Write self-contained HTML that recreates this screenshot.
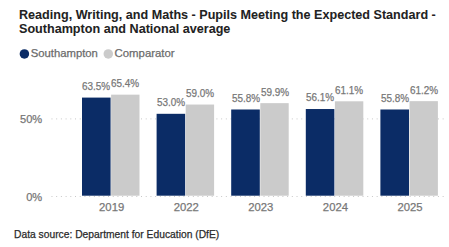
<!DOCTYPE html>
<html><head><meta charset="utf-8"><style>
html,body{margin:0;padding:0;background:#fff;}
body{width:449px;height:247px;position:relative;overflow:hidden;font-family:"Liberation Sans",sans-serif;}
.t{position:absolute;white-space:nowrap;-webkit-text-stroke:0.25px currentColor;}
svg{position:absolute;left:0;top:0;}
</style></head><body>
<svg width="449" height="247" viewBox="0 0 449 247">
<circle cx="24.4" cy="53.9" r="4.75" fill="#0b2c66"/>
<circle cx="108.3" cy="53.9" r="4.75" fill="#cbcbcb"/>
<rect x="51.45" y="118.40" width="1" height="1" fill="#c8c8c8"/>
<rect x="56.16" y="118.40" width="1" height="1" fill="#c8c8c8"/>
<rect x="60.88" y="118.40" width="1" height="1" fill="#c8c8c8"/>
<rect x="65.59" y="118.40" width="1" height="1" fill="#c8c8c8"/>
<rect x="70.30" y="118.40" width="1" height="1" fill="#c8c8c8"/>
<rect x="75.01" y="118.40" width="1" height="1" fill="#c8c8c8"/>
<rect x="79.73" y="118.40" width="1" height="1" fill="#c8c8c8"/>
<rect x="84.44" y="118.40" width="1" height="1" fill="#c8c8c8"/>
<rect x="89.15" y="118.40" width="1" height="1" fill="#c8c8c8"/>
<rect x="93.87" y="118.40" width="1" height="1" fill="#c8c8c8"/>
<rect x="98.58" y="118.40" width="1" height="1" fill="#c8c8c8"/>
<rect x="103.29" y="118.40" width="1" height="1" fill="#c8c8c8"/>
<rect x="108.01" y="118.40" width="1" height="1" fill="#c8c8c8"/>
<rect x="112.72" y="118.40" width="1" height="1" fill="#c8c8c8"/>
<rect x="117.43" y="118.40" width="1" height="1" fill="#c8c8c8"/>
<rect x="122.14" y="118.40" width="1" height="1" fill="#c8c8c8"/>
<rect x="126.86" y="118.40" width="1" height="1" fill="#c8c8c8"/>
<rect x="131.57" y="118.40" width="1" height="1" fill="#c8c8c8"/>
<rect x="136.28" y="118.40" width="1" height="1" fill="#c8c8c8"/>
<rect x="141.00" y="118.40" width="1" height="1" fill="#c8c8c8"/>
<rect x="145.71" y="118.40" width="1" height="1" fill="#c8c8c8"/>
<rect x="150.42" y="118.40" width="1" height="1" fill="#c8c8c8"/>
<rect x="155.14" y="118.40" width="1" height="1" fill="#c8c8c8"/>
<rect x="159.85" y="118.40" width="1" height="1" fill="#c8c8c8"/>
<rect x="164.56" y="118.40" width="1" height="1" fill="#c8c8c8"/>
<rect x="169.27" y="118.40" width="1" height="1" fill="#c8c8c8"/>
<rect x="173.99" y="118.40" width="1" height="1" fill="#c8c8c8"/>
<rect x="178.70" y="118.40" width="1" height="1" fill="#c8c8c8"/>
<rect x="183.41" y="118.40" width="1" height="1" fill="#c8c8c8"/>
<rect x="188.13" y="118.40" width="1" height="1" fill="#c8c8c8"/>
<rect x="192.84" y="118.40" width="1" height="1" fill="#c8c8c8"/>
<rect x="197.55" y="118.40" width="1" height="1" fill="#c8c8c8"/>
<rect x="202.27" y="118.40" width="1" height="1" fill="#c8c8c8"/>
<rect x="206.98" y="118.40" width="1" height="1" fill="#c8c8c8"/>
<rect x="211.69" y="118.40" width="1" height="1" fill="#c8c8c8"/>
<rect x="216.40" y="118.40" width="1" height="1" fill="#c8c8c8"/>
<rect x="221.12" y="118.40" width="1" height="1" fill="#c8c8c8"/>
<rect x="225.83" y="118.40" width="1" height="1" fill="#c8c8c8"/>
<rect x="230.54" y="118.40" width="1" height="1" fill="#c8c8c8"/>
<rect x="235.26" y="118.40" width="1" height="1" fill="#c8c8c8"/>
<rect x="239.97" y="118.40" width="1" height="1" fill="#c8c8c8"/>
<rect x="244.68" y="118.40" width="1" height="1" fill="#c8c8c8"/>
<rect x="249.40" y="118.40" width="1" height="1" fill="#c8c8c8"/>
<rect x="254.11" y="118.40" width="1" height="1" fill="#c8c8c8"/>
<rect x="258.82" y="118.40" width="1" height="1" fill="#c8c8c8"/>
<rect x="263.53" y="118.40" width="1" height="1" fill="#c8c8c8"/>
<rect x="268.25" y="118.40" width="1" height="1" fill="#c8c8c8"/>
<rect x="272.96" y="118.40" width="1" height="1" fill="#c8c8c8"/>
<rect x="277.67" y="118.40" width="1" height="1" fill="#c8c8c8"/>
<rect x="282.39" y="118.40" width="1" height="1" fill="#c8c8c8"/>
<rect x="287.10" y="118.40" width="1" height="1" fill="#c8c8c8"/>
<rect x="291.81" y="118.40" width="1" height="1" fill="#c8c8c8"/>
<rect x="296.53" y="118.40" width="1" height="1" fill="#c8c8c8"/>
<rect x="301.24" y="118.40" width="1" height="1" fill="#c8c8c8"/>
<rect x="305.95" y="118.40" width="1" height="1" fill="#c8c8c8"/>
<rect x="310.67" y="118.40" width="1" height="1" fill="#c8c8c8"/>
<rect x="315.38" y="118.40" width="1" height="1" fill="#c8c8c8"/>
<rect x="320.09" y="118.40" width="1" height="1" fill="#c8c8c8"/>
<rect x="324.80" y="118.40" width="1" height="1" fill="#c8c8c8"/>
<rect x="329.52" y="118.40" width="1" height="1" fill="#c8c8c8"/>
<rect x="334.23" y="118.40" width="1" height="1" fill="#c8c8c8"/>
<rect x="338.94" y="118.40" width="1" height="1" fill="#c8c8c8"/>
<rect x="343.66" y="118.40" width="1" height="1" fill="#c8c8c8"/>
<rect x="348.37" y="118.40" width="1" height="1" fill="#c8c8c8"/>
<rect x="353.08" y="118.40" width="1" height="1" fill="#c8c8c8"/>
<rect x="357.80" y="118.40" width="1" height="1" fill="#c8c8c8"/>
<rect x="362.51" y="118.40" width="1" height="1" fill="#c8c8c8"/>
<rect x="367.22" y="118.40" width="1" height="1" fill="#c8c8c8"/>
<rect x="371.93" y="118.40" width="1" height="1" fill="#c8c8c8"/>
<rect x="376.65" y="118.40" width="1" height="1" fill="#c8c8c8"/>
<rect x="381.36" y="118.40" width="1" height="1" fill="#c8c8c8"/>
<rect x="386.07" y="118.40" width="1" height="1" fill="#c8c8c8"/>
<rect x="390.79" y="118.40" width="1" height="1" fill="#c8c8c8"/>
<rect x="395.50" y="118.40" width="1" height="1" fill="#c8c8c8"/>
<rect x="400.21" y="118.40" width="1" height="1" fill="#c8c8c8"/>
<rect x="404.93" y="118.40" width="1" height="1" fill="#c8c8c8"/>
<rect x="409.64" y="118.40" width="1" height="1" fill="#c8c8c8"/>
<rect x="414.35" y="118.40" width="1" height="1" fill="#c8c8c8"/>
<rect x="419.06" y="118.40" width="1" height="1" fill="#c8c8c8"/>
<rect x="423.78" y="118.40" width="1" height="1" fill="#c8c8c8"/>
<rect x="428.49" y="118.40" width="1" height="1" fill="#c8c8c8"/>
<rect x="433.20" y="118.40" width="1" height="1" fill="#c8c8c8"/>
<rect x="437.92" y="118.40" width="1" height="1" fill="#c8c8c8"/>
<rect x="442.63" y="118.40" width="1" height="1" fill="#c8c8c8"/>
<rect x="51.45" y="196.00" width="1" height="1" fill="#c8c8c8"/>
<rect x="56.16" y="196.00" width="1" height="1" fill="#c8c8c8"/>
<rect x="60.88" y="196.00" width="1" height="1" fill="#c8c8c8"/>
<rect x="65.59" y="196.00" width="1" height="1" fill="#c8c8c8"/>
<rect x="70.30" y="196.00" width="1" height="1" fill="#c8c8c8"/>
<rect x="75.01" y="196.00" width="1" height="1" fill="#c8c8c8"/>
<rect x="79.73" y="196.00" width="1" height="1" fill="#c8c8c8"/>
<rect x="84.44" y="196.00" width="1" height="1" fill="#c8c8c8"/>
<rect x="89.15" y="196.00" width="1" height="1" fill="#c8c8c8"/>
<rect x="93.87" y="196.00" width="1" height="1" fill="#c8c8c8"/>
<rect x="98.58" y="196.00" width="1" height="1" fill="#c8c8c8"/>
<rect x="103.29" y="196.00" width="1" height="1" fill="#c8c8c8"/>
<rect x="108.01" y="196.00" width="1" height="1" fill="#c8c8c8"/>
<rect x="112.72" y="196.00" width="1" height="1" fill="#c8c8c8"/>
<rect x="117.43" y="196.00" width="1" height="1" fill="#c8c8c8"/>
<rect x="122.14" y="196.00" width="1" height="1" fill="#c8c8c8"/>
<rect x="126.86" y="196.00" width="1" height="1" fill="#c8c8c8"/>
<rect x="131.57" y="196.00" width="1" height="1" fill="#c8c8c8"/>
<rect x="136.28" y="196.00" width="1" height="1" fill="#c8c8c8"/>
<rect x="141.00" y="196.00" width="1" height="1" fill="#c8c8c8"/>
<rect x="145.71" y="196.00" width="1" height="1" fill="#c8c8c8"/>
<rect x="150.42" y="196.00" width="1" height="1" fill="#c8c8c8"/>
<rect x="155.14" y="196.00" width="1" height="1" fill="#c8c8c8"/>
<rect x="159.85" y="196.00" width="1" height="1" fill="#c8c8c8"/>
<rect x="164.56" y="196.00" width="1" height="1" fill="#c8c8c8"/>
<rect x="169.27" y="196.00" width="1" height="1" fill="#c8c8c8"/>
<rect x="173.99" y="196.00" width="1" height="1" fill="#c8c8c8"/>
<rect x="178.70" y="196.00" width="1" height="1" fill="#c8c8c8"/>
<rect x="183.41" y="196.00" width="1" height="1" fill="#c8c8c8"/>
<rect x="188.13" y="196.00" width="1" height="1" fill="#c8c8c8"/>
<rect x="192.84" y="196.00" width="1" height="1" fill="#c8c8c8"/>
<rect x="197.55" y="196.00" width="1" height="1" fill="#c8c8c8"/>
<rect x="202.27" y="196.00" width="1" height="1" fill="#c8c8c8"/>
<rect x="206.98" y="196.00" width="1" height="1" fill="#c8c8c8"/>
<rect x="211.69" y="196.00" width="1" height="1" fill="#c8c8c8"/>
<rect x="216.40" y="196.00" width="1" height="1" fill="#c8c8c8"/>
<rect x="221.12" y="196.00" width="1" height="1" fill="#c8c8c8"/>
<rect x="225.83" y="196.00" width="1" height="1" fill="#c8c8c8"/>
<rect x="230.54" y="196.00" width="1" height="1" fill="#c8c8c8"/>
<rect x="235.26" y="196.00" width="1" height="1" fill="#c8c8c8"/>
<rect x="239.97" y="196.00" width="1" height="1" fill="#c8c8c8"/>
<rect x="244.68" y="196.00" width="1" height="1" fill="#c8c8c8"/>
<rect x="249.40" y="196.00" width="1" height="1" fill="#c8c8c8"/>
<rect x="254.11" y="196.00" width="1" height="1" fill="#c8c8c8"/>
<rect x="258.82" y="196.00" width="1" height="1" fill="#c8c8c8"/>
<rect x="263.53" y="196.00" width="1" height="1" fill="#c8c8c8"/>
<rect x="268.25" y="196.00" width="1" height="1" fill="#c8c8c8"/>
<rect x="272.96" y="196.00" width="1" height="1" fill="#c8c8c8"/>
<rect x="277.67" y="196.00" width="1" height="1" fill="#c8c8c8"/>
<rect x="282.39" y="196.00" width="1" height="1" fill="#c8c8c8"/>
<rect x="287.10" y="196.00" width="1" height="1" fill="#c8c8c8"/>
<rect x="291.81" y="196.00" width="1" height="1" fill="#c8c8c8"/>
<rect x="296.53" y="196.00" width="1" height="1" fill="#c8c8c8"/>
<rect x="301.24" y="196.00" width="1" height="1" fill="#c8c8c8"/>
<rect x="305.95" y="196.00" width="1" height="1" fill="#c8c8c8"/>
<rect x="310.67" y="196.00" width="1" height="1" fill="#c8c8c8"/>
<rect x="315.38" y="196.00" width="1" height="1" fill="#c8c8c8"/>
<rect x="320.09" y="196.00" width="1" height="1" fill="#c8c8c8"/>
<rect x="324.80" y="196.00" width="1" height="1" fill="#c8c8c8"/>
<rect x="329.52" y="196.00" width="1" height="1" fill="#c8c8c8"/>
<rect x="334.23" y="196.00" width="1" height="1" fill="#c8c8c8"/>
<rect x="338.94" y="196.00" width="1" height="1" fill="#c8c8c8"/>
<rect x="343.66" y="196.00" width="1" height="1" fill="#c8c8c8"/>
<rect x="348.37" y="196.00" width="1" height="1" fill="#c8c8c8"/>
<rect x="353.08" y="196.00" width="1" height="1" fill="#c8c8c8"/>
<rect x="357.80" y="196.00" width="1" height="1" fill="#c8c8c8"/>
<rect x="362.51" y="196.00" width="1" height="1" fill="#c8c8c8"/>
<rect x="367.22" y="196.00" width="1" height="1" fill="#c8c8c8"/>
<rect x="371.93" y="196.00" width="1" height="1" fill="#c8c8c8"/>
<rect x="376.65" y="196.00" width="1" height="1" fill="#c8c8c8"/>
<rect x="381.36" y="196.00" width="1" height="1" fill="#c8c8c8"/>
<rect x="386.07" y="196.00" width="1" height="1" fill="#c8c8c8"/>
<rect x="390.79" y="196.00" width="1" height="1" fill="#c8c8c8"/>
<rect x="395.50" y="196.00" width="1" height="1" fill="#c8c8c8"/>
<rect x="400.21" y="196.00" width="1" height="1" fill="#c8c8c8"/>
<rect x="404.93" y="196.00" width="1" height="1" fill="#c8c8c8"/>
<rect x="409.64" y="196.00" width="1" height="1" fill="#c8c8c8"/>
<rect x="414.35" y="196.00" width="1" height="1" fill="#c8c8c8"/>
<rect x="419.06" y="196.00" width="1" height="1" fill="#c8c8c8"/>
<rect x="423.78" y="196.00" width="1" height="1" fill="#c8c8c8"/>
<rect x="428.49" y="196.00" width="1" height="1" fill="#c8c8c8"/>
<rect x="433.20" y="196.00" width="1" height="1" fill="#c8c8c8"/>
<rect x="437.92" y="196.00" width="1" height="1" fill="#c8c8c8"/>
<rect x="442.63" y="196.00" width="1" height="1" fill="#c8c8c8"/>
<rect x="82.00" y="97.59" width="28.6" height="98.11" fill="#0b2c66"/>
<rect x="111.10" y="94.66" width="28.4" height="101.04" fill="#cbcbcb"/>
<rect x="156.60" y="113.81" width="28.6" height="81.88" fill="#0b2c66"/>
<rect x="185.70" y="104.54" width="28.4" height="91.16" fill="#cbcbcb"/>
<rect x="231.20" y="109.49" width="28.6" height="86.21" fill="#0b2c66"/>
<rect x="260.30" y="103.15" width="28.4" height="92.55" fill="#cbcbcb"/>
<rect x="305.80" y="109.03" width="28.6" height="86.67" fill="#0b2c66"/>
<rect x="334.90" y="101.30" width="28.4" height="94.40" fill="#cbcbcb"/>
<rect x="380.40" y="109.49" width="28.6" height="86.21" fill="#0b2c66"/>
<rect x="409.50" y="101.15" width="28.4" height="94.55" fill="#cbcbcb"/>
</svg>
<div class="t" style="left:19.00px;top:7.87px;font-size:12.6px;line-height:15.12px;color:#222222;font-weight:700;-webkit-text-stroke:0.05px currentColor;">Reading, Writing, and Maths - Pupils Meeting the Expected Standard -</div>
<div class="t" style="left:19.00px;top:22.27px;font-size:12.6px;line-height:15.12px;color:#222222;font-weight:700;-webkit-text-stroke:0.05px currentColor;">Southampton and National average</div>
<div class="t" style="left:30.70px;top:46.70px;font-size:11.3px;line-height:13.56px;color:#6b6b6b;font-weight:400;">Southampton</div>
<div class="t" style="left:114.50px;top:46.61px;font-size:11.4px;line-height:13.68px;color:#6b6b6b;font-weight:400;">Comparator</div>
<div class="t" style="right:406.80px;top:112.79px;font-size:11.1px;line-height:13.32px;color:#777777;font-weight:400;">50%</div>
<div class="t" style="right:406.80px;top:191.19px;font-size:11.1px;line-height:13.32px;color:#777777;font-weight:400;">0%</div>
<div class="t" style="left:-103.70px;width:400px;text-align:center;top:80.00px;font-size:11.3px;line-height:13.56px;color:#777777;font-weight:400;transform:scaleX(0.88);transform-origin:50% 0;">63.5%</div>
<div class="t" style="left:-74.70px;width:400px;text-align:center;top:77.06px;font-size:11.3px;line-height:13.56px;color:#777777;font-weight:400;transform:scaleX(0.88);transform-origin:50% 0;">65.4%</div>
<div class="t" style="left:-88.35px;width:400px;text-align:center;top:201.00px;font-size:11.3px;line-height:13.56px;color:#777777;font-weight:400;">2019</div>
<div class="t" style="left:-29.10px;width:400px;text-align:center;top:96.22px;font-size:11.3px;line-height:13.56px;color:#777777;font-weight:400;transform:scaleX(0.88);transform-origin:50% 0;">53.0%</div>
<div class="t" style="left:-0.10px;width:400px;text-align:center;top:86.95px;font-size:11.3px;line-height:13.56px;color:#777777;font-weight:400;transform:scaleX(0.88);transform-origin:50% 0;">59.0%</div>
<div class="t" style="left:-13.75px;width:400px;text-align:center;top:201.00px;font-size:11.3px;line-height:13.56px;color:#777777;font-weight:400;">2022</div>
<div class="t" style="left:45.50px;width:400px;text-align:center;top:91.89px;font-size:11.3px;line-height:13.56px;color:#777777;font-weight:400;transform:scaleX(0.88);transform-origin:50% 0;">55.8%</div>
<div class="t" style="left:74.50px;width:400px;text-align:center;top:85.56px;font-size:11.3px;line-height:13.56px;color:#777777;font-weight:400;transform:scaleX(0.88);transform-origin:50% 0;">59.9%</div>
<div class="t" style="left:60.85px;width:400px;text-align:center;top:201.00px;font-size:11.3px;line-height:13.56px;color:#777777;font-weight:400;">2023</div>
<div class="t" style="left:120.10px;width:400px;text-align:center;top:91.43px;font-size:11.3px;line-height:13.56px;color:#777777;font-weight:400;transform:scaleX(0.88);transform-origin:50% 0;">56.1%</div>
<div class="t" style="left:149.10px;width:400px;text-align:center;top:83.71px;font-size:11.3px;line-height:13.56px;color:#777777;font-weight:400;transform:scaleX(0.88);transform-origin:50% 0;">61.1%</div>
<div class="t" style="left:135.45px;width:400px;text-align:center;top:201.00px;font-size:11.3px;line-height:13.56px;color:#777777;font-weight:400;">2024</div>
<div class="t" style="left:194.70px;width:400px;text-align:center;top:91.89px;font-size:11.3px;line-height:13.56px;color:#777777;font-weight:400;transform:scaleX(0.88);transform-origin:50% 0;">55.8%</div>
<div class="t" style="left:223.70px;width:400px;text-align:center;top:83.55px;font-size:11.3px;line-height:13.56px;color:#777777;font-weight:400;transform:scaleX(0.88);transform-origin:50% 0;">61.2%</div>
<div class="t" style="left:210.05px;width:400px;text-align:center;top:201.00px;font-size:11.3px;line-height:13.56px;color:#777777;font-weight:400;">2025</div>
<div class="t" style="left:14.20px;top:227.59px;font-size:11px;line-height:13.2px;color:#2a2a2a;font-weight:400;transform:scaleX(0.935);transform-origin:0 0;">Data source: Department for Education (DfE)</div>
</body></html>
